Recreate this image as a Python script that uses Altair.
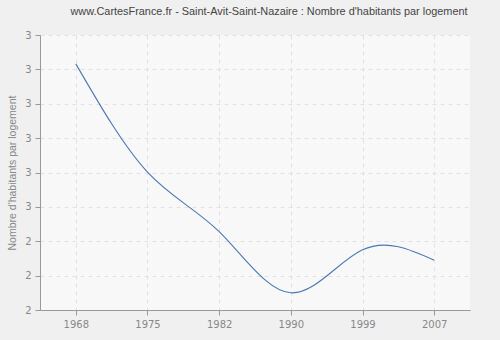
import altair as alt
import pandas as pd

years = ["1968", "1975", "1982", "1990", "1999", "2007"]
values = [2.916, 2.601, 2.428, 2.250, 2.375, 2.345]
y_ticks = [2.2, 2.3, 2.4, 2.5, 2.6, 2.7, 2.8, 2.9, 3.0]

df = pd.DataFrame({"year": years, "value": values})

FONT = "DejaVu Sans"
TFONT = "Liberation Sans"

chart = alt.Chart(df).mark_line(
    interpolate="natural", color="#4a78b0", strokeWidth=1.1
).encode(
    x=alt.X("year:O", sort=years,
            scale=alt.Scale(type="point", padding=0.5),
            axis=alt.Axis(title=None, labelAngle=0, grid=True,
                          gridDash=[4, 4], gridColor="#e2e2e2",
                          domainColor="#999999", tickColor="#999999",
                          tickSize=5, labelColor="#888888", labelFontSize=10,
                          labelPadding=4, labelFont=FONT)),
    y=alt.Y("value:Q",
            scale=alt.Scale(domain=[2.2, 3.0], nice=False, zero=False),
            axis=alt.Axis(title="Nombre d'habitants par logement",
                          values=y_ticks, labelExpr="round(datum.value)",
                          grid=True, gridDash=[4, 4], gridColor="#e2e2e2",
                          domainColor="#999999", tickColor="#999999",
                          tickSize=5, labelColor="#888888", labelFontSize=10,
                          labelPadding=4, labelFont=FONT,
                          titleColor="#888888", titleFontSize=10.5,
                          titleFont=TFONT, titleFontWeight="normal",
                          titlePadding=7)),
).properties(
    width=430,
    height=275,
    title=alt.TitleParams(
        "www.CartesFrance.fr - Saint-Avit-Saint-Nazaire : Nombre d'habitants par logement",
        font=TFONT, fontSize=10.9, fontWeight="normal", color="#444444",
        anchor="middle", offset=13, dx=14),
    padding={"left": 40, "top": 35, "right": 30, "bottom": 30},
    autosize=alt.AutoSizeParams(type="none"),
    background="#f0f0f0",
).configure_view(
    fill="#f8f8f8", stroke=None
)

chart.save("out.html", embed_options={"renderer": "svg", "actions": False})
